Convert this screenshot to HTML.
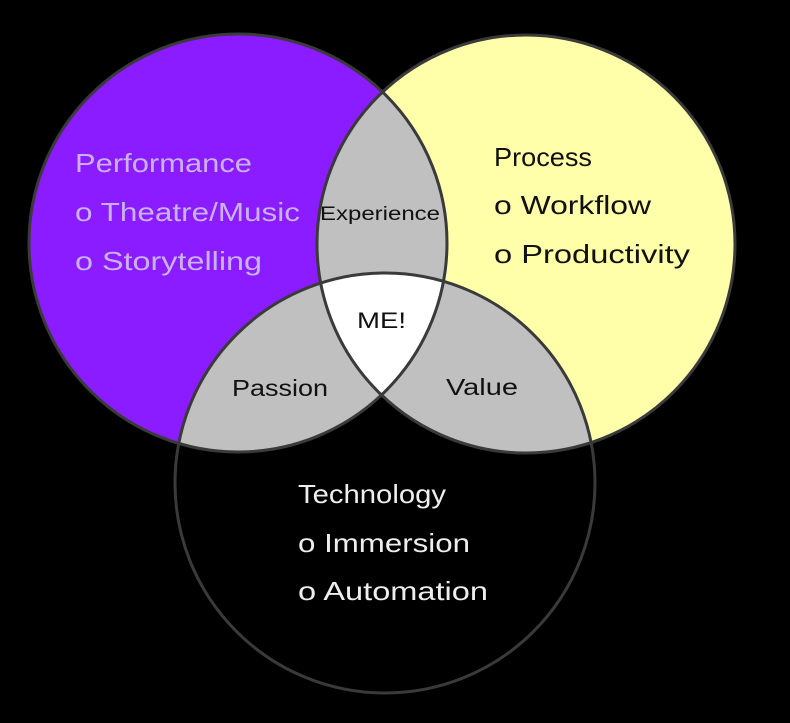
<!DOCTYPE html>
<html><head><meta charset="utf-8"><style>
html,body{margin:0;padding:0;background:#000;}
svg{display:block;}
text{font-family:"Liberation Sans",sans-serif;}
</style></head><body>
<svg width="790" height="723" viewBox="0 0 790 723" xmlns="http://www.w3.org/2000/svg">
<defs>
<clipPath id="cL"><circle cx="238" cy="243" r="209"/></clipPath>
<clipPath id="cR"><circle cx="526" cy="244" r="209"/></clipPath>
<clipPath id="cB"><circle cx="385" cy="483" r="210"/></clipPath>
</defs>
<rect width="790" height="723" fill="#000"/>
<circle cx="238" cy="243" r="209" fill="#8a1cff"/>
<circle cx="526" cy="244" r="209" fill="#ffffaa"/>
<circle cx="385" cy="483" r="210" fill="#000"/>
<g clip-path="url(#cL)"><circle cx="526" cy="244" r="209" fill="#c0c0c0"/><circle cx="385" cy="483" r="210" fill="#c0c0c0"/></g>
<g clip-path="url(#cR)"><circle cx="385" cy="483" r="210" fill="#c0c0c0"/></g>
<g clip-path="url(#cL)"><g clip-path="url(#cR)"><circle cx="385" cy="483" r="210" fill="#fff"/></g></g>
<g fill="none" stroke="#3a3a3a" stroke-width="3">
<circle cx="238" cy="243" r="209"/>
<circle cx="526" cy="244" r="209"/>
<circle cx="385" cy="483" r="210"/>
</g>
<g font-size="26" fill="#c9b2f2">
<text x="75" y="172" textLength="177" lengthAdjust="spacingAndGlyphs">Performance</text>
<text x="75" y="221" textLength="225" lengthAdjust="spacingAndGlyphs">o Theatre/Music</text>
<text x="75" y="270" textLength="187" lengthAdjust="spacingAndGlyphs">o Storytelling</text>
</g>
<g font-size="26" fill="#111">
<text x="494" y="166" textLength="98" lengthAdjust="spacingAndGlyphs">Process</text>
<text x="494" y="214" textLength="157" lengthAdjust="spacingAndGlyphs">o Workflow</text>
<text x="494" y="263" textLength="196" lengthAdjust="spacingAndGlyphs">o Productivity</text>
</g>
<text x="320" y="220" font-size="19" fill="#111" textLength="120" lengthAdjust="spacingAndGlyphs">Experience</text>
<text x="357" y="328" font-size="22" fill="#111" textLength="49" lengthAdjust="spacingAndGlyphs">ME!</text>
<text x="232" y="396" font-size="23" fill="#111" textLength="96" lengthAdjust="spacingAndGlyphs">Passion</text>
<text x="446" y="395" font-size="23" fill="#111" textLength="72" lengthAdjust="spacingAndGlyphs">Value</text>
<g font-size="26" fill="#eee">
<text x="298" y="503" textLength="148" lengthAdjust="spacingAndGlyphs">Technology</text>
<text x="298" y="552" textLength="172" lengthAdjust="spacingAndGlyphs">o Immersion</text>
<text x="298" y="600" textLength="190" lengthAdjust="spacingAndGlyphs">o Automation</text>
</g>
</svg>
</body></html>
